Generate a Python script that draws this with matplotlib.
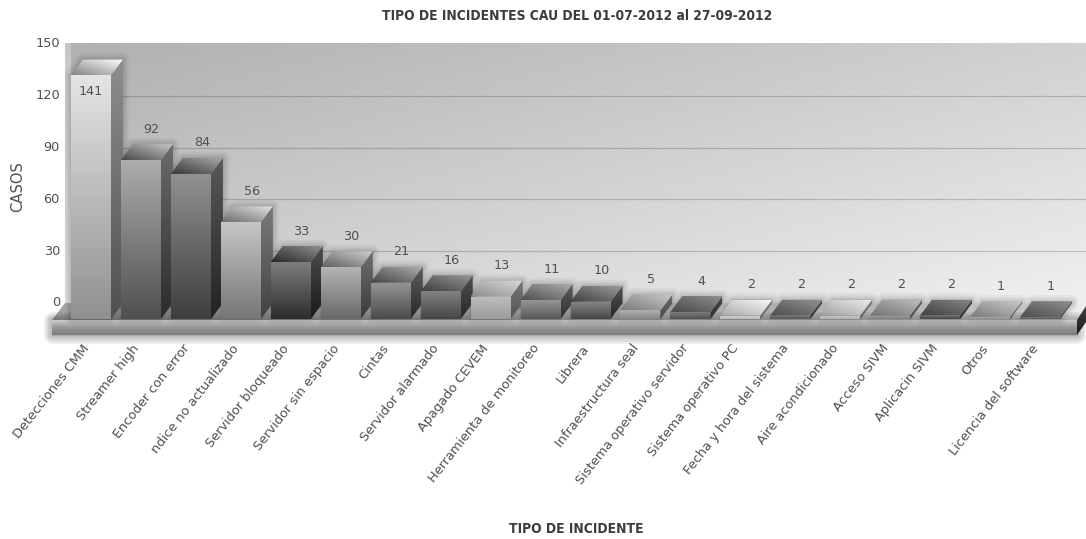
import matplotlib
matplotlib.use('Agg')
import matplotlib.pyplot as plt
from matplotlib.patches import Polygon
import numpy as np

categories = ['Detecciones CMM', 'Streamer high', 'Encoder con error', 'ndice no actualizado',
              'Servidor bloqueado', 'Servidor sin espacio', 'Cintas', 'Servidor alarmado',
              'Apagado CEVEM', 'Herramienta de monitoreo', 'Librera', 'Infraestructura seal',
              'Sistema operativo servidor', 'Sistema operativo PC', 'Fecha y hora del sistema',
              'Aire acondicionado', 'Acceso SIVM', 'Aplicacin SIVM', 'Otros', 'Licencia del software']
casos = [141, 92, 84, 56, 33, 30, 21, 16, 13, 11, 10, 5, 4, 2, 2, 2, 2, 2, 1, 1]
y_ticks = [0, 30, 60, 90, 120, 150]

# gray levels of each bar's front face, top and bottom
face_top = [228, 172, 145, 198, 125, 180, 150, 130, 190, 150, 135, 175, 125, 215, 125, 205, 165, 115, 175, 125]
face_bottom = [145, 80, 62, 118, 45, 105, 75, 70, 155, 88, 70, 135, 80, 185, 85, 175, 125, 70, 135, 85]

W, H = 1086, 539
STEP = 49.95      # pixels per category
UNIT = 1.727      # pixels per case
X0, Y0 = 91, 319  # pixel of first bar centre and of the bar base
HALF = 20 / STEP
DX, DY = 12 / STEP, 16 / UNIT

TEXT = '#505050'


def xpx(p):
    return (p - X0) / STEP


def ypx(p):
    return (Y0 - p) / UNIT


def gray(v, k=1.0):
    v = min(255, v * k) / 255
    return (v, v, v)


def gradient(ax, verts, c0, c1, mode='v', c2=None, z=2):
    # fill a polygon with a linear gradient, clipped from an image
    verts = np.array(verts)
    gx, gy = np.meshgrid(np.linspace(0, 1, 64), np.linspace(0, 1, 64))
    t = {'v': gy, 'h': gx, 'd': 0.5 * (1 - gx + gy)}[mode]
    stops = [c0, c1] if c2 is None else [c0, c2, c1]
    pos = np.linspace(0, 1, len(stops))
    img = np.dstack([np.interp(t, pos, [s[i] for s in stops]) for i in range(3)])
    extent = [verts[:, 0].min(), verts[:, 0].max(), verts[:, 1].min(), verts[:, 1].max()]
    im = ax.imshow(img, extent=extent, origin='upper', aspect='auto', zorder=z, interpolation='bilinear')
    clip = Polygon(verts, closed=True, transform=ax.transData, fc='none', ec='none')
    ax.add_patch(clip)
    im.set_clip_path(clip)


def glow(ax, verts, z, widths=(9, 6, 4, 2), alpha=0.04):
    for w in widths:
        ax.add_patch(Polygon(verts, closed=True, fc=(0, 0, 0, alpha), ec=(0, 0, 0, alpha),
                             lw=w, joinstyle='round', zorder=z))


fig = plt.figure(figsize=(W / 100, H / 100), dpi=100)
ax = fig.add_axes([0, 0, 1, 1])
ax.axis('off')

# back wall with a diagonal gradient
wall_l, wall_r, wall_t, wall_b = xpx(65), xpx(1086), ypx(43), ypx(320)
xx, yy = np.meshgrid(np.linspace(0, 1, 300), np.linspace(0, 1, 150))
shade = 176 + 66 * (0.5 * xx + 0.5 * yy)
ax.imshow(np.dstack([shade / 255] * 3), extent=[wall_l, wall_r, wall_b, wall_t], origin='upper',
          aspect='auto', zorder=0)

# lighter left wall strip
gradient(ax, [(wall_l, wall_t), (xpx(71), wall_t), (xpx(71), ypx(303)), (wall_l, ypx(303))],
         gray(198), gray(225), z=0.5)

# gridlines at the back of the chart
for t in y_ticks[1:-1]:
    ax.plot([xpx(71), wall_r], [t + DY, t + DY], color=(0, 0, 0, 0.18), lw=0.9, zorder=1)

# floor and platform
floor = [(xpx(65), ypx(303)), (xpx(1086), ypx(303)), (xpx(1076), ypx(320)), (xpx(52), ypx(320))]
gradient(ax, floor, gray(165), gray(238), mode='h', z=1)
front = [(xpx(52), ypx(320)), (xpx(1077), ypx(320)), (xpx(1077), ypx(335)), (xpx(52), ypx(335))]
glow(ax, front, 1.1, widths=(12, 9, 6, 3), alpha=0.07)
gradient(ax, front, gray(205), gray(125), c2=gray(150), z=1.5)
right = [(xpx(1077), ypx(320)), (xpx(1086), ypx(306)), (xpx(1086), ypx(322)), (xpx(1077), ypx(335))]
gradient(ax, right, gray(70), gray(25), z=1.5)

# soft shadows first so no bar gets covered by its neighbour's shadow
for i, v in enumerate(casos):
    outline = [(i - HALF, v), (i - HALF + DX, v + DY), (i + HALF + DX, v + DY), (i + HALF + DX, DY),
               (i + HALF, 0), (i - HALF, 0)]
    glow(ax, outline, 2)

# bars
for i, v in enumerate(casos):
    l, r = i - HALF, i + HALF
    top = face_top[i]
    bottom = face_bottom[i]
    gradient(ax, [(l, v), (r, v), (r, 0), (l, 0)], gray(top), gray(bottom), z=3)
    gradient(ax, [(r, v), (r + DX, v + DY), (r + DX, DY), (r, 0)], gray(top, 0.62), gray(bottom, 0.55), z=3)
    # cap runs light at the back right to dark at the front left
    gradient(ax, [(l, v), (l + DX, v + DY), (r + DX, v + DY), (r, v)], gray(top, 1.15), gray(bottom, 0.9),
             mode='d', z=3)

    # value label sits above the cap unless it would leave the chart
    label_y = v + DY + 15 / UNIT
    x = i + DX * 0.9
    if label_y > y_ticks[-1]:
        label_y = v - 9.5
        x = i
    ax.text(x, label_y, str(v), ha='center', va='center', fontsize=9.2, color=TEXT, zorder=5)

# y axis
for t in y_ticks:
    ax.text(xpx(60), t + DY, str(t), ha='right', va='center', fontsize=9.3, color=TEXT, zorder=5)

# category labels
for i, name in enumerate(categories):
    ax.text(i - 0.08, ypx(346), name, rotation=52, rotation_mode='anchor', ha='right', va='center',
            fontsize=9.3, color=TEXT, zorder=5)

title_font = dict(family='DejaVu Sans', stretch='condensed', fontweight='bold', color='#3c3c3c')
ax.text(xpx(577.5), ypx(16), 'TIPO DE INCIDENTES CAU DEL 01-07-2012 al 27-09-2012', ha='center', va='center',
        fontsize=9.9, **title_font)
ax.text(xpx(576), ypx(529), 'TIPO DE INCIDENTE', ha='center', va='center', fontsize=9.9, **title_font)
ax.text(xpx(18), ypx(187), 'CASOS', rotation=90, ha='center', va='center', fontsize=10.6, color=TEXT)

ax.set_xlim(xpx(0), xpx(W))
ax.set_ylim(ypx(H), ypx(0))
fig.savefig('out.png', dpi=100, facecolor='white')
